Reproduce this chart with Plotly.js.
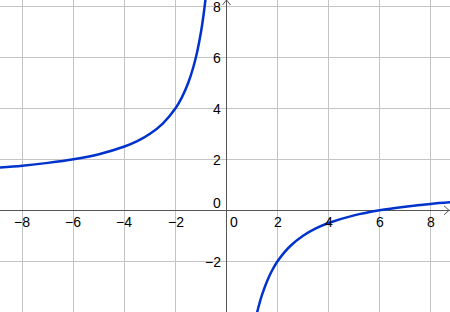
<!DOCTYPE html>
<html>
<head>
<meta charset="utf-8">
<script src="https://cdn.plot.ly/plotly-3.0.1.min.js"></script>
<style>
html,body{margin:0;padding:0;background:#fff;}
#chart{width:450px;height:312px;}
</style>
</head>
<body>
<div id="chart"></div>
<script>
// Curve values (left branch, right branch)
const leftX  = [-9.0, -8.0, -7.0, -6.0, -5.0, -4.0, -3.5, -3.0, -2.5, -2.0, -1.75, -1.5, -1.3, -1.15, -1.0, -0.9, -0.83, -0.78];
const leftY  = [1.67, 1.75, 1.86, 2.0, 2.2, 2.5, 2.71, 3.0, 3.4, 4.0, 4.43, 5.0, 5.62, 6.22, 7.0, 7.67, 8.23, 8.7];
const rightX = [1.15, 1.25, 1.4, 1.6, 1.8, 2.0, 2.25, 2.5, 3.0, 3.5, 4.0, 5.0, 6.0, 7.0, 8.0, 9.0];
const rightY = [-4.22, -3.8, -3.29, -2.75, -2.33, -2.0, -1.67, -1.4, -1.0, -0.71, -0.5, -0.2, 0.0, 0.14, 0.25, 0.33];

// Tick labels
const xTickVals = [-8, -6, -4, -2, 2, 4, 6, 8];
const xTickText = ['\u22128', '\u22126', '\u22124', '\u22122', '2', '4', '6', '8'];
const yTickVals = [-2, 2, 4, 6, 8];
const yTickText = ['\u22122', '2', '4', '6', '8'];
const zeroLabel = '0';

const curveColor = '#0033cc';
const axisColor = '#555555';
const gridColor = '#c4c4c4';
const labelFont = {family: 'Liberation Sans, Arial, sans-serif', size: 14, color: '#000'};

const curveStyle = {color: curveColor, width: 2.5, shape: 'spline', smoothing: 1.0};

const traces = [
  {x: leftX, y: leftY, mode: 'lines', line: curveStyle, hoverinfo: 'skip', showlegend: false},
  {x: rightX, y: rightY, mode: 'lines', line: curveStyle, hoverinfo: 'skip', showlegend: false}
];

const annotations = [];
xTickVals.forEach((v, i) => {
  annotations.push({x: v, y: 0, xref: 'x', yref: 'y', text: xTickText[i], showarrow: false,
    xanchor: 'center', yanchor: 'top', yshift: -2, font: labelFont});
});
yTickVals.forEach((v, i) => {
  annotations.push({x: 0, y: v, xref: 'x', yref: 'y', text: yTickText[i], showarrow: false,
    xanchor: 'right', yanchor: 'middle', xshift: -4, yshift: -1, font: labelFont});
});
annotations.push({x: 0, y: 0, xref: 'x', yref: 'y', text: zeroLabel, showarrow: false,
  xanchor: 'left', yanchor: 'top', xshift: 1, yshift: -2, font: labelFont});
annotations.push({x: 0, y: 0, xref: 'x', yref: 'y', text: zeroLabel, showarrow: false,
  xanchor: 'right', yanchor: 'bottom', xshift: -4, yshift: -3, font: labelFont});

const shapes = [
  {type: 'path', xref: 'x', yref: 'paper', xsizemode: 'pixel', ysizemode: 'pixel',
   xanchor: 0, yanchor: 1, path: 'M -4,-5 L 0,0 L 4,-5', line: {color: axisColor, width: 1}},
  {type: 'path', xref: 'paper', yref: 'y', xsizemode: 'pixel', ysizemode: 'pixel',
   xanchor: 1, yanchor: 0, path: 'M -6,4.5 L -1,0 L -6,-4.5', line: {color: axisColor, width: 1}}
];

const layout = {
  width: 450, height: 312,
  margin: {l: 0, r: 0, t: 0, b: 0, pad: 0},
  paper_bgcolor: '#ffffff', plot_bgcolor: '#ffffff',
  showlegend: false,
  xaxis: {range: [-8.88, 8.76], dtick: 2, tick0: 0, showgrid: true, gridcolor: gridColor, gridwidth: 1,
    zeroline: true, zerolinecolor: axisColor, zerolinewidth: 1, showticklabels: false, ticks: '',
    showline: false, fixedrange: true},
  yaxis: {range: [-3.988, 8.247], dtick: 2, tick0: 0, showgrid: true, gridcolor: gridColor, gridwidth: 1,
    zeroline: true, zerolinecolor: axisColor, zerolinewidth: 1, showticklabels: false, ticks: '',
    showline: false, fixedrange: true},
  annotations: annotations,
  shapes: shapes
};

Plotly.newPlot('chart', traces, layout, {staticPlot: true, displayModeBar: false});
</script>
</body>
</html>
